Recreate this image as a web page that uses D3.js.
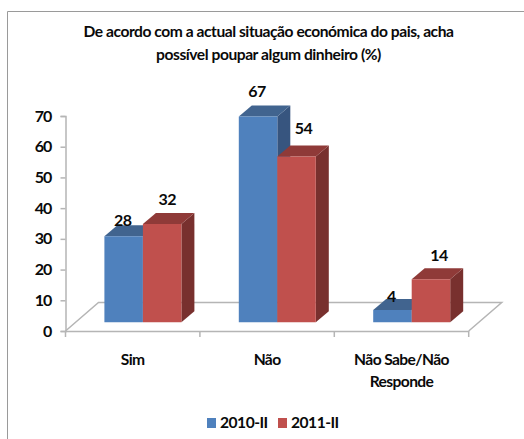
<!DOCTYPE html>
<html>
<meta charset="utf-8">
<script src="https://d3js.org/d3.v7.min.js"></script>
<style>
  body { margin: 0; background: #fff; }
  svg { display: block; }
  text { font-family: Lato, "Open Sans", sans-serif; font-weight: 700; fill: #0a0a0a; }
  .axis path, .axis line, .floor { stroke: #b5b5b5; stroke-width: 1.5; fill: none; }
</style>
<body>
<div id="my_dataviz"></div>
<script>
    const categories = ["Sim", "Não", "Não Sabe/Não Responde"];
    const seriesNames = ["2010-II", "2011-II"];
    const values2010 = [28, 67, 4];
    const values2011 = [32, 54, 14];
    const yTicks = [0, 10, 20, 30, 40, 50, 60, 70];
    const titleLines = ["De acordo com a actual situação económica do pais, acha", "possível poupar algum dinheiro (%)"];

    const colors = [
      {front: "#4f81bd", top: "#41648f", side: "#37557f"},
      {front: "#c0504d", top: "#8f3a38", side: "#78302e"}
    ];

    const width = 524, height = 439;
    const plot = {left: 65.5, right: 468.7, top: 116, bottom: 331};
    // 3d depth of the floor, and of the bars standing on it
    const floorDx = 33, floorDy = -28.5;
    const frontDx = 10.2, frontDy = -8.7;
    const depthDx = 13, depthDy = -11;
    const barWidth = 38.5;

    const svg = d3.select("#my_dataviz")
      .append("svg")
      .attr("width", width)
      .attr("height", height);

    // outer frame, only top and left show up
    svg.append("path")
      .attr("d", "M7.5,439V11.5H524")
      .attr("fill", "none")
      .attr("stroke", "#9a9a9a")
      .attr("stroke-width", 1);

    svg.append("g").selectAll("text")
      .data(titleLines)
      .enter().append("text")
      .attr("x", 268.5)
      .attr("y", function(d, i) { return 37 + i * 22.5; })
      .attr("text-anchor", "middle")
      .style("font-size", "15.6px")
      .style("letter-spacing", "-0.45px")
      .text(function(d) { return d; });

    const x = d3.scaleBand().domain(categories).range([plot.left, plot.right]);
    const y = d3.scaleLinear().domain([0, 70]).range([plot.bottom, plot.top]);

    // floor
    svg.append("path")
      .attr("class", "floor")
      .attr("d", "M" + plot.left + "," + plot.bottom +
        "L" + (plot.left + floorDx) + "," + (plot.bottom + floorDy) +
        "H" + (plot.right + floorDx) +
        "L" + plot.right + "," + plot.bottom);

    // y axis
    const yAxis = svg.append("g")
      .attr("class", "axis")
      .attr("transform", "translate(" + plot.left + ",0)")
      .call(d3.axisLeft(y).tickValues(yTicks).tickSize(5).tickSizeOuter(5).tickPadding(9));
    yAxis.selectAll("text")
      .style("font-size", "16px")
      .style("letter-spacing", "-0.9px");

    // x axis, ticks sit between the categories
    const xAxis = svg.append("g")
      .attr("class", "axis")
      .attr("transform", "translate(0," + plot.bottom + ")")
      .call(d3.axisBottom(x).tickSize(0).tickPadding(0));
    xAxis.selectAll("line").remove();
    xAxis.selectAll("path").attr("d", "M" + plot.left + ",0.5H" + plot.right);
    xAxis.selectAll(".between")
      .data(categories.concat(["end"]))
      .enter().append("line")
      .attr("class", "between")
      .attr("x1", function(d, i) { return plot.left + i * x.step(); })
      .attr("x2", function(d, i) { return plot.left + i * x.step(); })
      .attr("y1", 0)
      .attr("y2", 6);

    // category labels, the long one wraps after the slash
    xAxis.selectAll(".tick text").each(function(d) {
      const el = d3.select(this).text(null).attr("y", 34).attr("dy", null)
        .style("font-size", "15.6px")
        .style("letter-spacing", "-0.6px");
      const parts = d === "Não Sabe/Não Responde" ? ["Não Sabe/Não", "Responde"] : [d];
      parts.forEach(function(p, i) {
        el.append("tspan").attr("x", 0).attr("dy", i ? 21.7 : 0).text(p);
      });
    });

    function barPaths(cat, value, s) {
      const x0 = x(cat) + x.bandwidth() / 2 + frontDx - barWidth + s * barWidth;
      const x1 = x0 + barWidth;
      const yb = y(0) + frontDy;
      const yt = y(value) + frontDy;
      return {
        front: [[x0, yb], [x1, yb], [x1, yt], [x0, yt]],
        top: [[x0, yt], [x1, yt], [x1 + depthDx, yt + depthDy], [x0 + depthDx, yt + depthDy]],
        side: [[x1, yb], [x1 + depthDx, yb + depthDy], [x1 + depthDx, yt + depthDy], [x1, yt]]
      };
    }

    const line = d3.line();
    const allValues = [values2010, values2011];

    categories.forEach(function(cat, c) {
      allValues.forEach(function(vals, s) {
        const p = barPaths(cat, vals[c], s);
        ["side", "top", "front"].forEach(function(face) {
          svg.append("path")
            .attr("d", line(p[face]) + "Z")
            .attr("fill", colors[s][face]);
        });
      });
    });

    // value labels, small hand nudges like the original
    const labelDx = [[-1, 5], [-1, 7], [-1, 8]];
    const labelUp = [10, 19, 19.5, 22, 8, 18];
    allValues.forEach(function(vals, s) {
      svg.append("g").selectAll("text")
        .data(vals)
        .enter().append("text")
        .attr("x", function(d, i) { return x(categories[i]) + x.bandwidth() / 2 + frontDx - barWidth / 2 + s * barWidth + labelDx[i][s]; })
        .attr("y", function(d, i) { return y(d) + frontDy - labelUp[i * 2 + s]; })
        .attr("text-anchor", "middle")
        .style("font-size", "16px")
        .style("letter-spacing", "-0.6px")
        .text(function(d) { return d; });
    });

    // legend
    const legend = svg.append("g").selectAll("g")
      .data(seriesNames)
      .enter().append("g")
      .attr("transform", function(d, i) { return "translate(" + (207 + i * 71) + ",418)"; });
    legend.append("rect")
      .attr("width", 9)
      .attr("height", 10)
      .attr("fill", function(d, i) { return colors[i].front; });
    legend.append("text")
      .attr("x", 13)
      .attr("y", 9.5)
      .style("font-size", "15.6px")
      .style("letter-spacing", "-0.5px")
      .text(function(d) { return d; });
</script>
</body>
</html>
